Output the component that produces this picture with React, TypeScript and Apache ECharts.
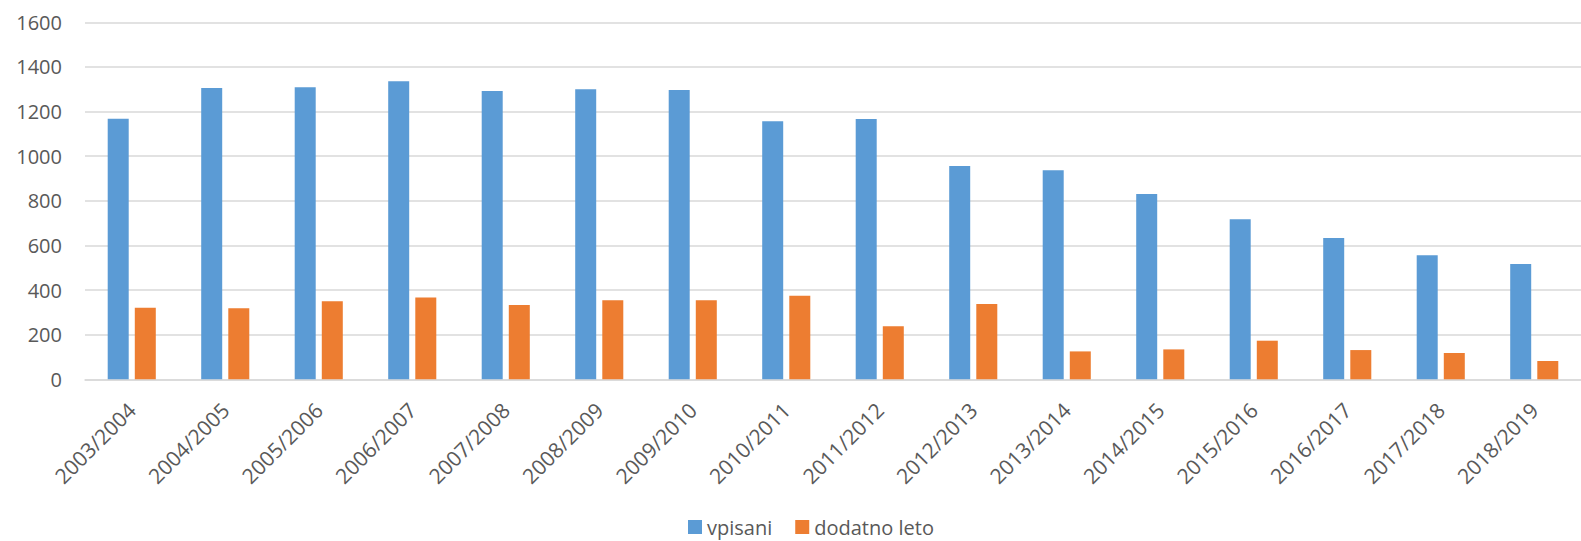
import React, { useEffect, useRef } from "react";
import * as echarts from "echarts";

const categories = [
  "2003/2004", "2004/2005", "2005/2006", "2006/2007", "2007/2008", "2008/2009",
  "2009/2010", "2010/2011", "2011/2012", "2012/2013", "2013/2014", "2014/2015",
  "2015/2016", "2016/2017", "2017/2018", "2018/2019",
];
const vpisani = [1168, 1306, 1309, 1336, 1292, 1300, 1297, 1156, 1167, 956, 937, 831, 717, 633, 556, 517];
const dodatnoLeto = [321, 318, 350, 367, 333, 354, 354, 374, 238, 338, 125, 134, 173, 131, 118, 82];
const seriesNames = ["vpisani", "dodatno leto"];

export default function App() {
  const ref = useRef<HTMLDivElement>(null);
  useEffect(() => {
    document.body.style.margin = "0";
    if (!ref.current) return;
    const chart = echarts.init(ref.current, undefined, { renderer: "svg" });
    const font = "'Open Sans', sans-serif";
    chart.setOption({
      animation: false,
      backgroundColor: "#ffffff",
      grid: { left: 85, right: -19, top: 22.3, bottom: 161.7, containLabel: false },
      legend: {
        data: seriesNames,
        left: 688,
        top: 517,
        padding: 0,
        itemWidth: 14,
        itemHeight: 14,
        itemGap: 23,
        icon: "rect",
        textStyle: { fontFamily: font, fontSize: 20, lineHeight: 20, color: "#595959" },
      },
      xAxis: {
        type: "category",
        data: categories,
        axisLine: { lineStyle: { color: "#d9d9d9", width: 1.5 } },
        axisTick: { show: false },
        axisLabel: {
          rotate: 45,
          interval: 0,
          margin: 27,
          fontFamily: font,
          fontSize: 21,
          color: "#595959",
        },
      },
      yAxis: {
        type: "value",
        min: 0,
        max: 1600,
        interval: 200,
        axisLine: { show: false },
        axisTick: { show: false },
        splitLine: { lineStyle: { color: "#d9d9d9", width: 1.5 } },
        axisLabel: {
          margin: 23,
          fontFamily: font,
          fontSize: 20,
          color: "#595959",
          formatter: (v: number) => String(v),
        },
      },
      series: [
        {
          name: seriesNames[0],
          type: "bar",
          data: vpisani,
          barWidth: 21,
          barGap: "29%",
          itemStyle: { color: "#5B9BD5" },
        },
        {
          name: seriesNames[1],
          type: "bar",
          data: dodatnoLeto,
          barWidth: 21,
          barGap: "29%",
          itemStyle: { color: "#ED7D31" },
        },
      ],
    });
    return () => chart.dispose();
  }, []);
  return <div ref={ref} style={{ width: 1581, height: 541 }} />;
}
